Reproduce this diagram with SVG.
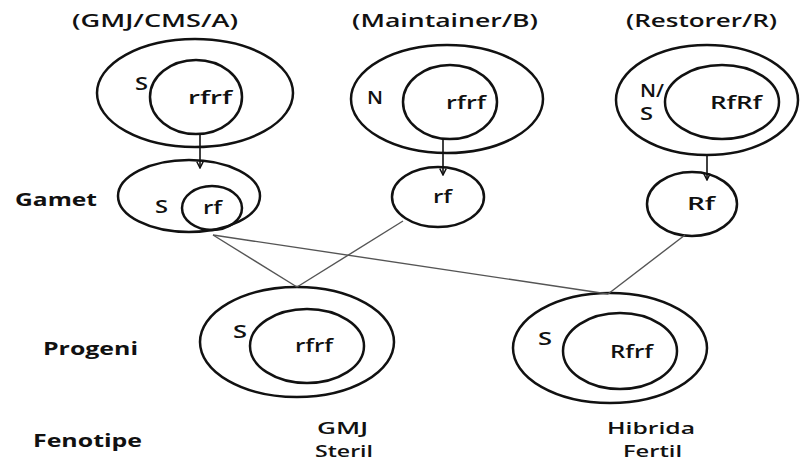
<svg xmlns="http://www.w3.org/2000/svg" width="800" height="462" viewBox="0 0 800 462">
<defs>
<style>
.o{fill:none;stroke:#111;stroke-width:2.5}
.t{font-family:"Open Sans","Noto Sans",sans-serif;font-size:18px;font-weight:600;fill:#111}
.p{font-family:"Open Sans","Noto Sans",sans-serif;font-size:16px;font-weight:600;fill:#111}
.b{font-family:"Open Sans","Noto Sans",sans-serif;font-size:18px;font-weight:bold;fill:#111}
.c{fill:none;stroke:#555;stroke-width:1.4}
.a{fill:none;stroke:#111;stroke-width:1.6}
</style>
<marker id="ah" viewBox="0 0 10 10" refX="9" refY="5" markerWidth="8" markerHeight="8" orient="auto" markerUnits="userSpaceOnUse">
<path d="M1,1 L9,5 L1,9" fill="none" stroke="#111" stroke-width="1.8"/>
</marker>
</defs>
<rect width="800" height="462" fill="#fff"/>
<g id="titles">
<text class="t" x="72" y="27" textLength="166" lengthAdjust="spacingAndGlyphs">(GMJ/CMS/A)</text>
<text class="t" x="352" y="27" textLength="186" lengthAdjust="spacingAndGlyphs">(Maintainer/B)</text>
<text class="t" x="626" y="27" textLength="151" lengthAdjust="spacingAndGlyphs">(Restorer/R)</text>
</g>
<g id="row-labels">
<text class="b" x="15" y="206" textLength="82" lengthAdjust="spacingAndGlyphs">Gamet</text>
<text class="b" x="43" y="355" textLength="95" lengthAdjust="spacingAndGlyphs">Progeni</text>
<text class="b" x="33" y="447" textLength="109" lengthAdjust="spacingAndGlyphs">Fenotipe</text>
</g>
<g id="parentA">
<ellipse class="o" cx="195" cy="93" rx="98" ry="54"/>
<ellipse class="o" cx="196" cy="97" rx="46" ry="37"/>
<text class="t" x="135" y="90" textLength="13" lengthAdjust="spacingAndGlyphs">S</text>
<text class="t" x="188" y="104" textLength="44" lengthAdjust="spacingAndGlyphs">rfrf</text>
</g>
<g id="parentB">
<ellipse class="o" cx="447" cy="99" rx="96" ry="54"/>
<ellipse class="o" cx="450" cy="102" rx="47" ry="37"/>
<text class="t" x="367" y="104" textLength="16" lengthAdjust="spacingAndGlyphs">N</text>
<text class="t" x="446" y="109" textLength="40" lengthAdjust="spacingAndGlyphs">rfrf</text>
</g>
<g id="parentR">
<ellipse class="o" cx="707" cy="100" rx="91" ry="55"/>
<ellipse class="o" cx="722" cy="102" rx="57" ry="37"/>
<text class="t" x="640" y="97" textLength="24" lengthAdjust="spacingAndGlyphs">N/</text>
<text class="t" x="640" y="120" textLength="13" lengthAdjust="spacingAndGlyphs">S</text>
<text class="t" x="710" y="109" textLength="52" lengthAdjust="spacingAndGlyphs">RfRf</text>
</g>
<g id="gametA">
<ellipse class="o" cx="189" cy="196" rx="71" ry="36"/>
<ellipse class="o" cx="212" cy="208" rx="30" ry="22"/>
<text class="t" x="155" y="213" textLength="13" lengthAdjust="spacingAndGlyphs">S</text>
<text class="t" x="203" y="214" textLength="19" lengthAdjust="spacingAndGlyphs">rf</text>
</g>
<g id="gametB">
<ellipse class="o" cx="438" cy="197" rx="46" ry="30"/>
<text class="t" x="433" y="203" textLength="19" lengthAdjust="spacingAndGlyphs">rf</text>
</g>
<g id="gametR">
<ellipse class="o" cx="692" cy="204" rx="45" ry="32"/>
<text class="t" x="687" y="210" textLength="28" lengthAdjust="spacingAndGlyphs">Rf</text>
</g>
<g id="progenyA">
<ellipse class="o" cx="297" cy="342" rx="97" ry="55"/>
<ellipse class="o" cx="307" cy="346" rx="57" ry="37"/>
<text class="t" x="233" y="338" textLength="14" lengthAdjust="spacingAndGlyphs">S</text>
<text class="t" x="295" y="352" textLength="38" lengthAdjust="spacingAndGlyphs">rfrf</text>
</g>
<g id="progenyB">
<ellipse class="o" cx="610" cy="348" rx="97" ry="55"/>
<ellipse class="o" cx="620" cy="351" rx="57" ry="38"/>
<text class="t" x="538" y="345" textLength="14" lengthAdjust="spacingAndGlyphs">S</text>
<text class="t" x="610" y="358" textLength="43" lengthAdjust="spacingAndGlyphs">Rfrf</text>
</g>
<g id="phenotypes">
<text class="p" x="317" y="434" textLength="51" lengthAdjust="spacingAndGlyphs">GMJ</text>
<text class="p" x="315" y="457" textLength="58" lengthAdjust="spacingAndGlyphs">Steril</text>
<text class="p" x="607" y="434" textLength="88" lengthAdjust="spacingAndGlyphs">Hibrida</text>
<text class="p" x="623" y="457" textLength="59" lengthAdjust="spacingAndGlyphs">Fertil</text>
</g>
<g id="connectors">
<line class="a" x1="200" y1="134" x2="200" y2="168" marker-end="url(#ah)"/>
<line class="a" x1="443" y1="139" x2="443" y2="175" marker-end="url(#ah)"/>
<line class="a" x1="707" y1="155" x2="707" y2="180" marker-end="url(#ah)"/>
<line class="c" x1="213" y1="235" x2="297" y2="287"/>
<line class="c" x1="213" y1="235" x2="608" y2="294"/>
<line class="c" x1="403" y1="221" x2="297" y2="287"/>
<line class="c" x1="685" y1="235" x2="608" y2="294"/>
</g>
</svg>
